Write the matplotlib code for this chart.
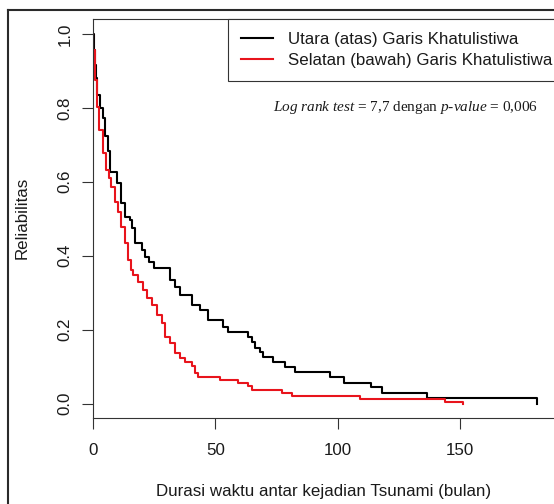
import matplotlib
matplotlib.use("Agg")
import matplotlib.pyplot as plt
from matplotlib.lines import Line2D

# ---- data ----
utara_time = [0, 0.4, 0.8, 1.35, 1.6, 3.0, 4.1, 5.0, 6.1, 6.9, 9.9, 11.6, 13.2, 15.0,
              16.1, 17.0, 20.0, 21.4, 22.9, 24.9, 31.6, 33.5, 35.6, 40.3, 43.7, 47.1,
              53.0, 55.3, 63.5, 64.9, 66.2, 68.2, 69.6, 73.7, 78.5, 82.6, 96.9, 102.6,
              113.5, 118.2, 136.4, 181.3]
utara_surv = [1.0, 0.957, 0.916, 0.881, 0.836, 0.800, 0.773, 0.724, 0.683, 0.627, 0.596,
              0.543, 0.506, 0.497, 0.474, 0.434, 0.415, 0.397, 0.384, 0.366, 0.334, 0.316,
              0.294, 0.267, 0.253, 0.226, 0.208, 0.194, 0.181, 0.167, 0.149, 0.140, 0.127,
              0.113, 0.100, 0.086, 0.073, 0.056, 0.044, 0.029, 0.014, 0.0]

selatan_time = [0, 0.2, 0.7, 1.0, 1.5, 2.5, 4.2, 5.4, 6.4, 7.5, 8.9, 10.2, 11.6, 13.0,
                14.3, 15.5, 16.5, 18.5, 20.6, 21.9, 24.0, 26.0, 28.1, 29.4, 31.5, 33.5,
                35.6, 37.6, 40.3, 41.7, 43.0, 51.9, 59.4, 63.5, 64.9, 77.1, 81.2, 109.1,
                143.9, 151.1]
selatan_surv = [1.0, 0.957, 0.927, 0.876, 0.803, 0.740, 0.677, 0.632, 0.609, 0.587, 0.546,
                0.519, 0.478, 0.434, 0.388, 0.361, 0.348, 0.330, 0.307, 0.285, 0.267,
                0.240, 0.217, 0.181, 0.163, 0.136, 0.122, 0.113, 0.101, 0.082, 0.072,
                0.064, 0.055, 0.047, 0.037, 0.028, 0.020, 0.0135, 0.0054, 0.0]

labels = ["Utara (atas) Garis Khatulistiwa", "Selatan (bawah) Garis Khatulistiwa"]
colors = ["#000000", "#e8141c"]
xticks = [0, 50, 100, 150]
yticks = [0.0, 0.2, 0.4, 0.6, 0.8, 1.0]
xlabel = "Durasi waktu antar kejadian Tsunami (bulan)"
ylabel = "Reliabilitas"
note = r"$\mathit{Log\ rank\ test}$ = 7,7 dengan $\mathit{p}$-$\mathit{value}$ = 0,006"

# ---- style ----
W, H = 554, 504
plt.rcParams["font.family"] = ["Liberation Sans", "DejaVu Sans"]
plt.rcParams["mathtext.fontset"] = "custom"
plt.rcParams["mathtext.rm"] = "Liberation Serif"
plt.rcParams["mathtext.it"] = "Liberation Serif:italic"
FS = 12.2
TXT = "#1a1a1a"

fig = plt.figure(figsize=(W / 100, H / 100), dpi=100)
ax = fig.add_axes([93 / W, (H - 417.7) / H, (556 - 93) / W, (417.7 - 19) / H])

ax.step(utara_time, utara_surv, where="post", color=colors[0], lw=1.5, label=labels[0])
ax.step(selatan_time, selatan_surv, where="post", color=colors[1], lw=1.5, label=labels[1])

ax.set_xlim(0, 189.2)
ax.set_ylim(-0.0384, 1.0406)
ax.set_xticks(xticks)
ax.set_xticklabels([str(v) for v in xticks])
ax.set_yticks(yticks)
ax.set_yticklabels([f"{v:.1f}" for v in yticks])
ax.tick_params(axis="both", length=8, width=0.8, color="#333333", labelsize=FS,
               labelcolor=TXT)
ax.tick_params(axis="x", pad=10)
ax.tick_params(axis="y", pad=6.5, labelrotation=90)
for lab in ax.get_yticklabels():
    lab.set_va("center")
for s in ax.spines.values():
    s.set_linewidth(0.8)
    s.set_color("#333333")

fig.text(22 / W, 1 - 218.3 / H, ylabel, rotation=90, ha="center", va="center",
         fontsize=FS, color=TXT)
fig.text(324 / W, 1 - 496 / H, xlabel, ha="center", va="baseline", fontsize=FS, color=TXT)

fig.text(273 / W, 1 - 110.5 / H, note, ha="left", va="baseline", fontsize=11,
         family="Liberation Serif", color=TXT)

leg = ax.legend(loc="upper left", bbox_to_anchor=((228 - 93) / 463, 1.0),
                borderaxespad=0, fontsize=FS, frameon=True, fancybox=False,
                edgecolor="#333333", framealpha=1, handlelength=1.9,
                handletextpad=0.85, labelspacing=0.33, borderpad=0.78)
leg.get_frame().set_linewidth(0.8)
for t in leg.get_texts():
    t.set_color(TXT)

# outer page frame
fig.add_artist(Line2D([8.3 / W, 8.3 / W], [0, 1 - 10 / H], transform=fig.transFigure,
                      color="#2a2a2a", lw=1.5))
fig.add_artist(Line2D([8.3 / W, 1.0], [1 - 10 / H, 1 - 10 / H], transform=fig.transFigure,
                      color="#2a2a2a", lw=1.5))

fig.savefig("out.png", dpi=100)
